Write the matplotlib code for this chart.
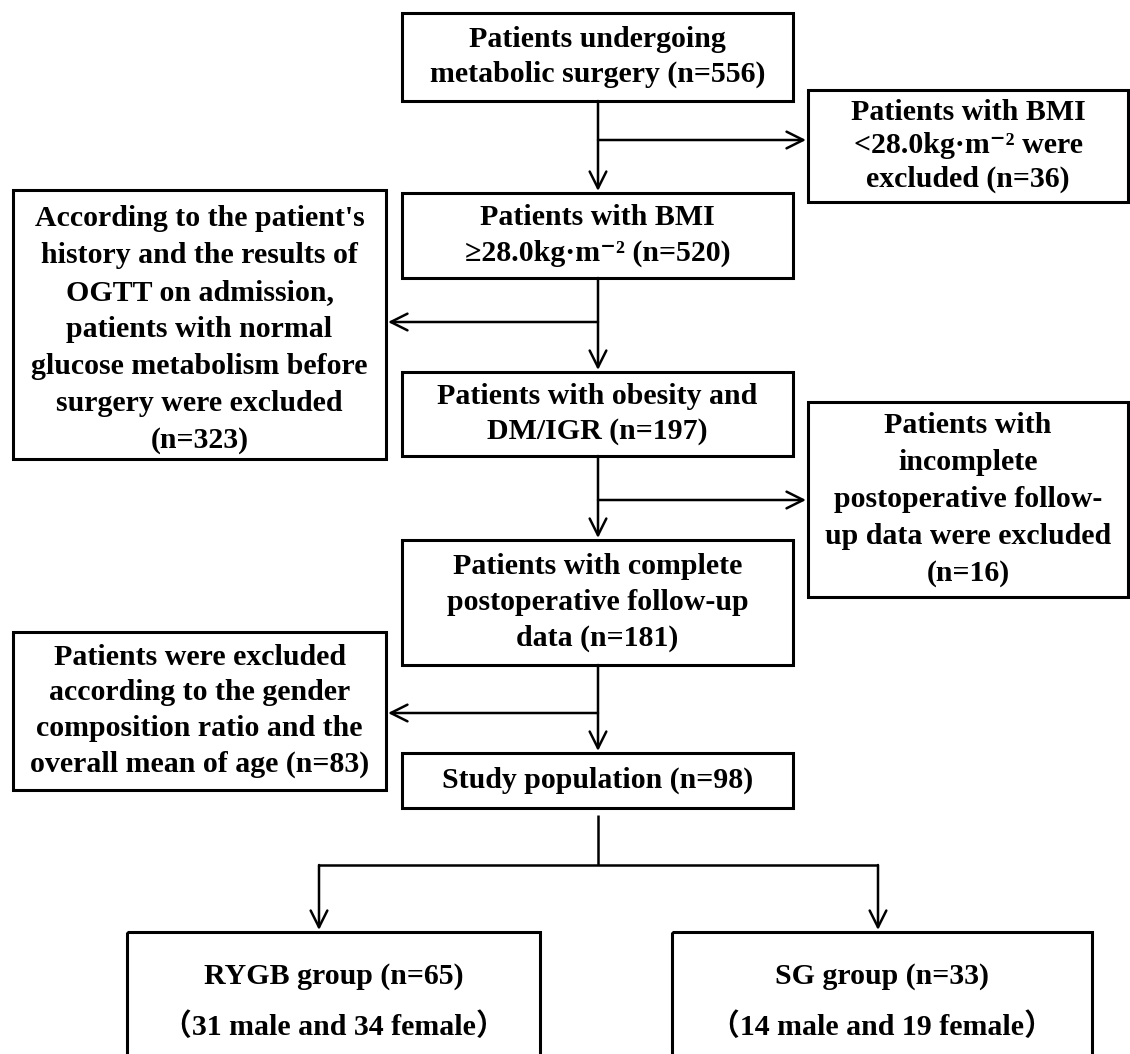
import matplotlib
matplotlib.use("Agg")
import matplotlib.pyplot as plt
from matplotlib.patches import Rectangle

plt.rcParams['font.family'] = ['Liberation Serif', 'Noto Sans CJK SC', 'DejaVu Sans']
plt.rcParams['font.weight'] = 'bold'

# box texts (main column, side exclusions, final groups)
main_texts = [
    "Patients undergoing\nmetabolic surgery (n=556)",
    "Patients with BMI\n≥28.0kg·m⁻² (n=520)",
    "Patients with obesity and\nDM/IGR (n=197)",
    "Patients with complete\npostoperative follow-up\ndata (n=181)",
    "Study population (n=98)",
]
excl_texts = [
    "Patients with BMI\n<28.0kg·m⁻² were\nexcluded (n=36)",
    "According to the patient's\nhistory and the results of\nOGTT on admission,\npatients with normal\nglucose metabolism before\nsurgery were excluded\n(n=323)",
    "Patients with\nincomplete\npostoperative follow-\nup data were excluded\n(n=16)",
    "Patients were excluded\naccording to the gender\ncomposition ratio and the\noverall mean of age (n=83)",
]
group_names = ["RYGB group (n=65)", "SG group (n=33)"]
group_detail = ["（31 male and 34 female）", "（14 male and 19 female）"]

fig = plt.figure(figsize=(11.3, 10.54), dpi=100)
ax = fig.add_axes([0, 0, 1, 1])
ax.set_xlim(0, 1130)
ax.set_ylim(1054, 0)
ax.axis('off')

FS = 21.5

def box(x0, y0, x1, y1, text=None, ls=1.3, fs=FS, dy=0):
    ax.add_patch(Rectangle((x0, y0), x1 - x0, y1 - y0, fill=False, lw=2.2, ec='black'))
    if text is not None:
        ax.text((x0 + x1) / 2, (y0 + y1) / 2 + dy, text, ha='center', va='center',
                fontsize=fs, linespacing=ls, fontweight='bold')

def arrow(x0, y0, x1, y1):
    ax.annotate('', xy=(x1, y1), xytext=(x0, y0),
                arrowprops=dict(arrowstyle='->', lw=1.8, color='black',
                                mutation_scale=30, shrinkA=0, shrinkB=0))

def line(xs, ys):
    ax.plot(xs, ys, color='black', lw=1.8, solid_capstyle='butt')

cx = 598
main_y = [(13, 101), (193, 278), (372, 456), (540, 665), (753, 808)]
main_ls = [1.35, 1.45, 1.35, 1.4, 1.3]
for (y0, y1), t, l in zip(main_y, main_texts, main_ls):
    box(402, y0, 793, y1, t, ls=l)

# exclusion boxes
box(808, 90, 1128, 202, excl_texts[0], ls=1.3)
box(13, 190, 386, 459, excl_texts[1], ls=1.47, dy=5)
box(808, 402, 1128, 597, excl_texts[2], ls=1.47)
box(13, 632, 386, 790, excl_texts[3], ls=1.42)

# vertical arrows between main boxes
for (a0, a1), (b0, b1) in zip(main_y[:-1], main_y[1:]):
    arrow(cx, a1, cx, b0 - 2)

# side arrows
arrow(cx, 140, 806, 140)
arrow(cx, 322, 388, 322)
arrow(cx, 500, 806, 500)
arrow(cx, 713, 388, 713)

# split to two groups
line([cx, cx], [815, 865])
line([319, 878], [865, 865])
arrow(319, 865, 319, 930)
arrow(878, 865, 878, 930)

gx = [(127, 540), (672, 1092)]
for (x0, x1), n, d in zip(gx, group_names, group_detail):
    ax.add_patch(Rectangle((x0, 932), x1 - x0, 140, fill=False, lw=2.2, ec='black', clip_on=True))
    ax.text((x0 + x1) / 2, 976, n, ha='center', va='center', fontsize=FS, fontweight='bold')
    ax.text((x0 + x1) / 2, 1027, d, ha='center', va='center', fontsize=FS, fontweight='bold')

fig.savefig('out.png', dpi=100)
